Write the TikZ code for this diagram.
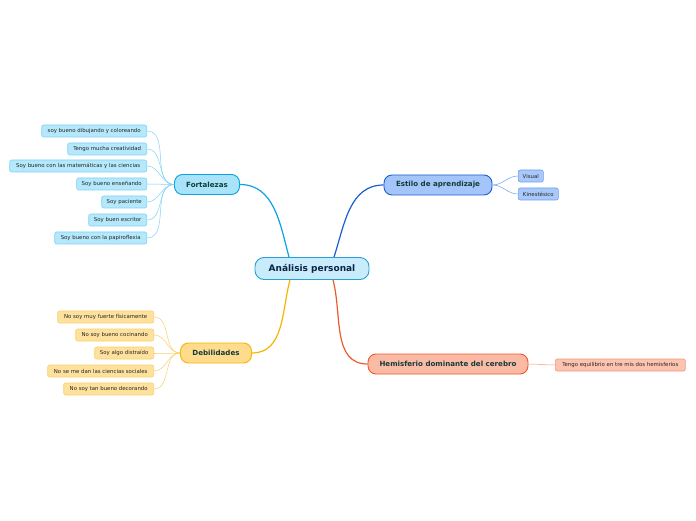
\documentclass[tikz,border=0pt]{standalone}
\usepackage{fontspec}
\setmainfont{DejaVu Sans}
\begin{document}
\begin{tikzpicture}[x=1pt,y=1pt,
  leaf/.style={draw, rounded corners=2pt, line width=0.6pt, minimum height=12pt, inner sep=1pt, font=\fontsize{5.4}{6}\selectfont, text=black!85},
  branch/.style={draw, rounded corners=8pt, line width=0.9pt, minimum height=20pt, inner sep=2pt, font=\fontsize{7.1}{8}\selectfont\bfseries, text={rgb,255:red,20;green,60;blue,55}},
  fleaf/.style={leaf, fill=fcl, draw=fcb},
  dleaf/.style={leaf, fill=dcl, draw=dcb},
  eleaf/.style={leaf, fill=ecl, draw=ecb},
  hleaf/.style={leaf, fill=hcl, draw=hcb},
  twig/.style={line width=0.5pt}
]
\definecolor{fcl}{HTML}{B5E8FB}\definecolor{fcb}{HTML}{7FD4F6}
\definecolor{dcl}{HTML}{FEE19D}\definecolor{dcb}{HTML}{FBD06E}
\definecolor{ecl}{HTML}{A9C9FA}\definecolor{ecb}{HTML}{6C9FEE}
\definecolor{hcl}{HTML}{FCC3B1}\definecolor{hcb}{HTML}{F2987C}
\definecolor{fmain}{HTML}{A8E3F9}\definecolor{fline}{HTML}{0BA3E3}
\definecolor{emain}{HTML}{A3C5FA}\definecolor{eline}{HTML}{1A5FD0}
\definecolor{dmain}{HTML}{FEDC8B}\definecolor{dline}{HTML}{F6B500}
\definecolor{hmain}{HTML}{FBBAA6}\definecolor{hline}{HTML}{EE5A2C}
\definecolor{cmain}{HTML}{C9ECFC}\definecolor{cline}{HTML}{2A9FD6}
\useasboundingbox (0,0) rectangle (696,520);
\fill[white] (0,0) rectangle (696,520);

\node[draw=cline, fill=cmain, rounded corners=9pt, line width=0.9pt, minimum width=114pt, minimum height=22pt, font=\fontsize{9}{10}\selectfont\bfseries, text={rgb,255:red,13;green,35;blue,64}] (c) at (312,251.5) {Análisis personal};

\node[branch, fill=fmain, draw=fline, minimum width=65pt] (f) at (207,335.5) {Fortalezas};
\node[branch, fill=emain, draw=eline, minimum width=108pt] (e) at (438,335) {Estilo de aprendizaje};
\node[branch, fill=dmain, draw=dline, minimum width=71pt] (d) at (216,167) {Debilidades};
\node[branch, fill=hmain, draw=hline, minimum width=160pt] (h) at (448,156) {Hemisferio dominante del cerebro};

\draw[fline, line width=1.2pt] ([xshift=-23pt]c.north) to[out=105,in=0] (f.east);
\draw[eline, line width=1.2pt] ([xshift=22pt]c.north) to[out=72,in=180] (e.west);
\draw[dline, line width=1.2pt] ([xshift=-22pt]c.south) to[out=-105,in=0] (d.east);
\draw[hline, line width=1.2pt] ([xshift=21pt]c.south) to[out=-75,in=180] (h.west);

% Fortalezas leaves
\node[fleaf, minimum width=105pt, anchor=east] (f1) at (147,389) {soy bueno dibujando y coloreando};
\node[fleaf, minimum width=79pt, anchor=east] (f2) at (147,371) {Tengo mucha creatividad};
\node[fleaf, minimum width=137pt, anchor=east] (f3) at (147,354) {Soy bueno con las matemáticas y las ciencias};
\node[fleaf, minimum width=70pt, anchor=east] (f4) at (147,336) {Soy bueno enseñando};
\node[fleaf, minimum width=45pt, anchor=east] (f5) at (147,318) {Soy paciente};
\node[fleaf, minimum width=58pt, anchor=east] (f6) at (147,300) {Soy buen escritor};
\node[fleaf, minimum width=92pt, anchor=east] (f7) at (147,282) {Soy bueno con la papiroflexia};
\foreach \i in {1,...,7} \draw[twig, fcb] (f.west) to[out=180,in=0] (f\i.east);

% Debilidades leaves
\node[dleaf, minimum width=96pt, anchor=east] (d1) at (154,203) {No soy muy fuerte físicamente};
\node[dleaf, minimum width=78pt, anchor=east] (d2) at (154,185) {No soy bueno cocinando};
\node[dleaf, minimum width=59pt, anchor=east] (d3) at (154,167) {Soy algo distraído};
\node[dleaf, minimum width=106pt, anchor=east] (d4) at (154,149) {No se me dan las ciencias sociales};
\node[dleaf, minimum width=90pt, anchor=east] (d5) at (154,131) {No soy tan bueno decorando};
\foreach \i in {1,...,5} \draw[twig, dcb] (d.west) to[out=180,in=0] (d\i.east);

% Estilo leaves
\node[eleaf, minimum width=25pt, anchor=west] (e1) at (518,344) {Visual};
\node[eleaf, minimum width=40pt, anchor=west] (e2) at (518,326) {Kinestésico};
\foreach \i in {1,2} \draw[twig, ecb] (e.east) to[out=0,in=180] (e\i.west);

% Hemisferio leaf
\node[hleaf, minimum width=130pt, anchor=west] (h1) at (555,155) {Tengo equilibrio en tre mis dos hemisferios};
\draw[twig, hcb] (h.east) to[out=0,in=180] (h1.west);
\end{tikzpicture}
\end{document}
